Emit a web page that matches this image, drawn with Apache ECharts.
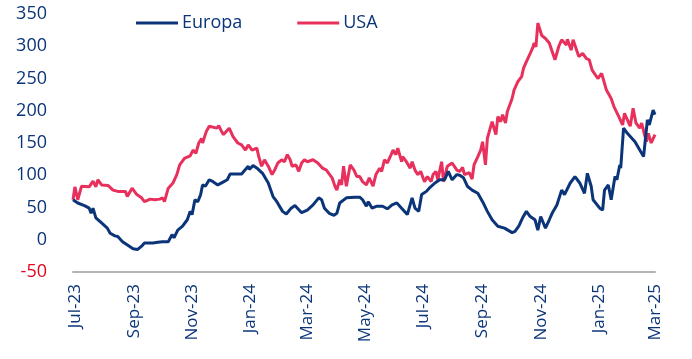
<!DOCTYPE html>
<html>
<head>
<meta charset="utf-8">
<script src="https://cdn.jsdelivr.net/npm/echarts@6/dist/echarts.min.js"></script>
<style>
html,body{margin:0;padding:0;background:#fff;}
#chart{width:692px;height:359px;}
</style>
</head>
<body>
<div id="chart"></div>
<script>
const seriesNames = ['Europa', 'USA'];
const yTicks = [-50, 0, 50, 100, 150, 200, 250, 300, 350];
const xStart = '2023-06-29';
const xEnd = '2025-03-01';

const europaDates = ['2023-06-29','2023-07-04','2023-07-11','2023-07-16','2023-07-18','2023-07-20','2023-07-23','2023-07-29','2023-08-04','2023-08-07','2023-08-12','2023-08-15','2023-08-20','2023-08-26','2023-08-31','2023-09-05','2023-09-09','2023-09-12','2023-09-21','2023-09-26','2023-10-01','2023-10-07','2023-10-11','2023-10-13','2023-10-17','2023-10-22','2023-10-27','2023-10-30','2023-11-01','2023-11-04','2023-11-07','2023-11-10','2023-11-12','2023-11-15','2023-11-19','2023-11-23','2023-11-28','2023-12-03','2023-12-08','2023-12-11','2023-12-23','2023-12-27','2023-12-30','2023-12-31','2024-01-04','2024-01-09','2024-01-11','2024-01-14','2024-01-20','2024-01-25','2024-01-29','2024-02-04','2024-02-08','2024-02-13','2024-02-17','2024-02-24','2024-03-01','2024-03-07','2024-03-08','2024-03-13','2024-03-16','2024-03-19','2024-03-24','2024-03-29','2024-04-01','2024-04-04','2024-04-11','2024-04-20','2024-04-22','2024-04-25','2024-04-28','2024-05-02','2024-05-04','2024-05-08','2024-05-13','2024-05-19','2024-05-24','2024-05-29','2024-06-03','2024-06-08','2024-06-14','2024-06-19','2024-06-22','2024-06-26','2024-06-29','2024-07-04','2024-07-07','2024-07-13','2024-07-18','2024-07-23','2024-07-27','2024-07-31','2024-08-05','2024-08-08','2024-08-12','2024-08-16','2024-08-21','2024-08-27','2024-09-01','2024-09-06','2024-09-11','2024-09-17','2024-09-24','2024-10-02','2024-10-05','2024-10-09','2024-10-13','2024-10-17','2024-10-21','2024-10-26','2024-10-29','2024-11-01','2024-11-06','2024-11-10','2024-11-13','2024-11-18','2024-11-20','2024-11-23','2024-11-26','2024-12-02','2024-12-07','2024-12-12','2024-12-17','2024-12-20','2024-12-24','2024-12-26','2025-01-02','2025-01-05','2025-01-07','2025-01-11','2025-01-14','2025-01-18','2025-01-20','2025-01-23','2025-01-24','2025-01-27','2025-01-31','2025-02-08','2025-02-13','2025-02-17','2025-02-19','2025-02-20','2025-02-21','2025-02-23','2025-02-27','2025-03-01'];
const europaValues = [62,57,53,49,41,49,34,26,18,10,6,5,-3,-9,-14,-15,-10,-5,-5,-4,-3,-3,8,3,15,21,31,44,39,62,59,70,85,83,93,90,85,89,93,102,102,109,114,109,115,110,110,103,88,67,59,44,40,49,53,42,46,54,52,65,62,49,41,38,41,57,65,66,69,66,62,52,59,49,52,52,48,54,57,49,39,65,49,44,70,75,80,88,93,93,106,93,101,100,96,83,77,72,59,44,31,21,18,11,13,21,34,44,36,31,15,36,18,31,41,54,52,77,70,88,98,88,72,103,83,62,49,46,77,85,62,98,93,116,111,173,165,152,139,129,157,155,186,178,201,194];

const usaDates = ['2023-06-29','2023-07-01','2023-07-04','2023-07-08','2023-07-16','2023-07-20','2023-07-23','2023-07-25','2023-07-29','2023-08-05','2023-08-10','2023-08-15','2023-08-23','2023-08-25','2023-08-30','2023-09-04','2023-09-09','2023-09-12','2023-09-18','2023-09-23','2023-09-28','2023-10-01','2023-10-03','2023-10-07','2023-10-12','2023-10-16','2023-10-19','2023-10-24','2023-10-30','2023-11-02','2023-11-05','2023-11-08','2023-11-11','2023-11-12','2023-11-16','2023-11-19','2023-11-27','2023-11-29','2023-12-02','2023-12-04','2023-12-10','2023-12-14','2023-12-19','2023-12-23','2023-12-27','2023-12-30','2024-01-03','2024-01-08','2024-01-10','2024-01-13','2024-01-16','2024-01-20','2024-01-24','2024-01-27','2024-01-30','2024-02-03','2024-02-06','2024-02-09','2024-02-12','2024-02-14','2024-02-18','2024-02-21','2024-02-24','2024-02-27','2024-03-01','2024-03-07','2024-03-12','2024-03-17','2024-03-21','2024-03-27','2024-03-30','2024-04-01','2024-04-04','2024-04-06','2024-04-08','2024-04-11','2024-04-15','2024-04-19','2024-04-22','2024-04-25','2024-04-28','2024-05-02','2024-05-05','2024-05-09','2024-05-12','2024-05-16','2024-05-18','2024-05-21','2024-05-24','2024-05-28','2024-05-30','2024-06-02','2024-06-04','2024-06-08','2024-06-09','2024-06-13','2024-06-17','2024-06-19','2024-06-22','2024-06-25','2024-06-28','2024-07-02','2024-07-05','2024-07-09','2024-07-11','2024-07-14','2024-07-16','2024-07-20','2024-07-22','2024-07-26','2024-07-31','2024-08-05','2024-08-08','2024-08-11','2024-08-13','2024-08-18','2024-08-21','2024-08-23','2024-08-27','2024-08-30','2024-09-01','2024-09-04','2024-09-06','2024-09-09','2024-09-11','2024-09-15','2024-09-17','2024-09-20','2024-09-22','2024-09-25','2024-09-27','2024-10-02','2024-10-04','2024-10-08','2024-10-12','2024-10-14','2024-10-17','2024-10-21','2024-10-24','2024-10-25','2024-10-27','2024-10-29','2024-11-02','2024-11-06','2024-11-10','2024-11-16','2024-11-20','2024-11-23','2024-11-28','2024-11-29','2024-12-03','2024-12-05','2024-12-11','2024-12-15','2024-12-19','2024-12-22','2024-12-25','2024-12-31','2025-01-04','2025-01-09','2025-01-14','2025-01-17','2025-01-22','2025-01-26','2025-01-28','2025-01-31','2025-02-03','2025-02-06','2025-02-09','2025-02-13','2025-02-15','2025-02-18','2025-02-20','2025-02-22','2025-02-25','2025-03-01'];
const usaValues = [62,82,62,83,82,91,82,93,85,84,77,75,75,67,80,70,65,59,63,62,63,65,59,80,88,101,116,126,130,139,134,150,157,150,168,176,173,177,168,163,173,160,150,147,139,147,139,142,129,114,124,114,101,109,119,124,121,132,124,114,116,106,119,124,121,124,119,111,108,96,83,77,93,85,114,83,116,108,98,98,90,85,96,83,101,111,106,124,119,132,139,132,142,121,129,121,111,121,108,101,106,90,98,90,101,106,93,121,90,114,119,108,106,112,101,104,94,116,129,139,152,116,157,173,183,163,191,183,194,181,199,219,232,245,253,266,276,289,299,305,299,336,317,312,305,279,300,310,302,311,294,310,284,289,281,279,263,250,258,232,219,206,191,178,196,186,176,204,181,173,181,163,152,165,150,163];

const NAVY = '#0b3578';
const RED = '#e8305c';
const FONT = 'Open Sans';

function pairs(dates, vals) { return dates.map((d, i) => [d, vals[i]]); }

const chart = echarts.init(document.getElementById('chart'));
chart.setOption({
  animation: false,
  textStyle: { fontFamily: FONT },
  legend: {
    left: 131, top: 9,
    itemWidth: 42, itemHeight: 3, itemGap: 55,
    icon: 'rect',
    textStyle: { color: NAVY, fontSize: 18, fontFamily: FONT, padding: [0, 0, 0, -1] },
    data: seriesNames
  },
  grid: { left: 73, right: 37, top: 14, bottom: 87 },
  xAxis: [{
    type: 'time',
    min: xStart, max: xEnd,
    minInterval: 65 * 86400000, maxInterval: 65 * 86400000,
    axisLine: { show: false },
    axisTick: { show: false },
    splitLine: { show: false },
    axisLabel: {
      rotate: 90, margin: 12, color: NAVY, fontSize: 17, fontFamily: FONT,
      formatter: v => echarts.time.format(v, '{MMM}-{yy}', false)
    }
  }, {
    type: 'time',
    min: xStart, max: xEnd,
    position: 'bottom',
    axisLine: { show: true, onZero: true, lineStyle: { color: '#b4b4b4', width: 2 } },
    axisTick: { show: false },
    axisLabel: { show: false },
    splitLine: { show: false }
  }],
  yAxis: {
    type: 'value',
    min: yTicks[0], max: yTicks[yTicks.length - 1], interval: 50,
    axisLine: { show: false },
    axisTick: { show: false },
    splitLine: { show: false },
    axisLabel: {
      margin: 26, fontSize: 18, fontFamily: FONT,
      color: v => (v < 0 ? '#e3051b' : NAVY)
    }
  },
  series: [{
    name: seriesNames[0], type: 'line', xAxisIndex: 0,
    data: pairs(europaDates, europaValues),
    showSymbol: false, symbol: 'none',
    lineStyle: { color: NAVY, width: 3 },
    itemStyle: { color: NAVY },
    z: 3
  }, {
    name: seriesNames[1], type: 'line', xAxisIndex: 0,
    data: pairs(usaDates, usaValues),
    showSymbol: false, symbol: 'none',
    lineStyle: { color: RED, width: 3 },
    itemStyle: { color: RED },
    z: 2
  }]
});
</script>
</body>
</html>
